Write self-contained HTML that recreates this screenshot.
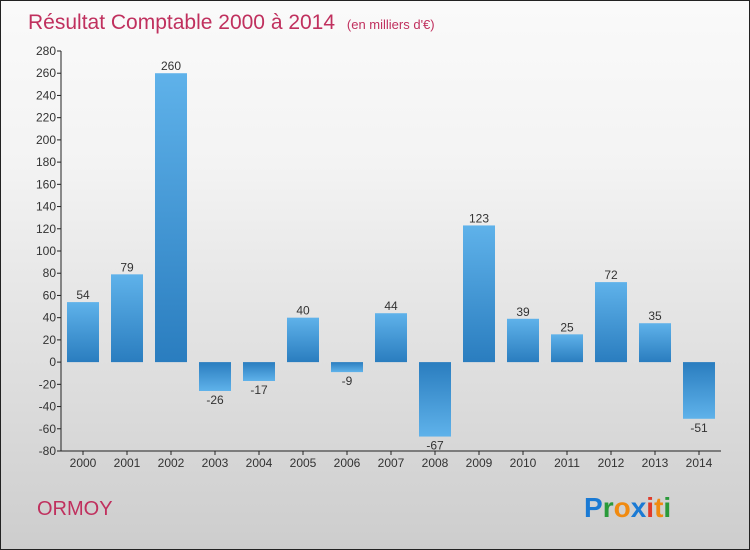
<!DOCTYPE html>
<html><head><meta charset="utf-8"><style>
body{margin:0}
#c{width:750px;height:550px;position:relative;box-sizing:border-box;border:1px solid #222;background:linear-gradient(#fafafa,#f3f3f3 30%,#cdcdcd);font-family:"Liberation Sans",sans-serif;overflow:hidden}
</style></head><body>
<div id="c">
<svg id="s" width="750" height="550" style="position:absolute;left:0;top:0">
<defs>
<linearGradient id="gp" x1="0" y1="0" x2="0" y2="1"><stop offset="0" stop-color="#5fb2ea"/><stop offset="1" stop-color="#2a7dbf"/></linearGradient>
<linearGradient id="gn" x1="0" y1="1" x2="0" y2="0"><stop offset="0" stop-color="#5fb2ea"/><stop offset="1" stop-color="#2a7dbf"/></linearGradient>
</defs>
<text x="27" y="28" font-size="21" fill="#c0305e">Résultat Comptable 2000 à 2014 <tspan font-size="13" dx="6">(en milliers d'€)</tspan></text>
<text x="36" y="514" font-size="20" fill="#c0305e">ORMOY</text>
<text x="583" y="516" font-size="28" font-weight="bold"><tspan fill="#1a7ad4">P</tspan><tspan fill="#2a9a3a">r</tspan><tspan fill="#f08a10">o</tspan><tspan fill="#1a7ad4">x</tspan><tspan fill="#e03a2a">i</tspan><tspan fill="#f08a10">t</tspan><tspan fill="#2a9a3a">i</tspan></text>
<g id="g"></g>
</svg>
</div>
<script>
const categories=["2000","2001","2002","2003","2004","2005","2006","2007","2008","2009","2010","2011","2012","2013","2014"];
const values=[54,79,260,-26,-17,40,-9,44,-67,123,39,25,72,35,-51];
const yTicks=[280,260,240,220,200,180,160,140,120,100,80,60,40,20,0,-20,-40,-60,-80];
const yMin=-80,yMax=280,plotTop=50,plotBot=450,plotLeft=60,band=44;
const y=v=>plotBot-(v-yMin)/(yMax-yMin)*(plotBot-plotTop);
const x=i=>plotLeft+band*i+band/2;
const g=document.getElementById('g');const NS='http://www.w3.org/2000/svg';
function mk(t,a,txt){const e=document.createElementNS(NS,t);for(const k in a)e.setAttribute(k,a[k]);if(txt!=null)e.textContent=txt;g.appendChild(e);return e;}
let e=mk('line',{x1:plotLeft,y1:plotTop,x2:plotLeft,y2:plotBot,stroke:'#222'});


e=mk('line',{x1:plotLeft,y1:plotBot,x2:plotLeft+band*categories.length,y2:plotBot,stroke:'#222'});


yTicks.forEach(v=>{
 e=mk('line',{x1:plotLeft-4,y1:y(v),x2:plotLeft,y2:y(v),stroke:'#222'});
 
 
 e=mk('text',{x:plotLeft-5,y:y(v)+4,'font-size':12,fill:'#333','text-anchor':'end'},v);
 
 
});
categories.forEach((c,i)=>{
 e=mk('line',{x1:x(i),y1:plotBot,x2:x(i),y2:plotBot+4,stroke:'#222'});
 
 
 e=mk('text',{x:x(i),y:plotBot+16,'font-size':12,fill:'#333','text-anchor':'middle'},c);
 
 
 const v=values[i],y0=y(0),y1=y(v);
 e=mk('rect',{x:x(i)-16,y:Math.min(y0,y1),width:32,height:Math.abs(y1-y0),fill:v>=0?'url(#gp)':'url(#gn)'});
 
 
 e=mk('text',{x:x(i),y:v>=0?y1-3:y1+13,'font-size':12,fill:'#333','text-anchor':'middle'},v);
 
 
});
</script>
</body></html>
